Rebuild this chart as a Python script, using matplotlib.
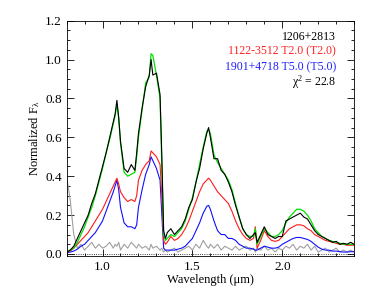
import matplotlib
matplotlib.use("Agg")
import matplotlib.pyplot as plt
from matplotlib.ticker import MultipleLocator

plt.rcParams['font.family'] = ['Liberation Serif', 'DejaVu Serif']
plt.rcParams['mathtext.fontset'] = 'custom'
plt.rcParams['mathtext.rm'] = 'Liberation Serif'
plt.rcParams['mathtext.it'] = 'Liberation Serif'

# wavelength grid (micron)
wl = [0.80, 0.82, 0.84, 0.86, 0.88, 0.90, 0.92, 0.94, 0.96, 0.98, 1.00, 1.02, 1.04, 1.06,
      1.07, 1.08, 1.09, 1.10,
      1.12, 1.14, 1.16, 1.18, 1.19, 1.20,
      1.22, 1.24, 1.26, 1.27, 1.28, 1.30, 1.32, 1.33, 1.34, 1.35, 1.36,
      1.38, 1.40, 1.42, 1.44, 1.46, 1.48, 1.50, 1.52, 1.54, 1.56, 1.58,
      1.59, 1.60,
      1.62, 1.64, 1.66, 1.68, 1.70, 1.72, 1.74, 1.76, 1.78, 1.80, 1.82, 1.84,
      1.85, 1.86,
      1.88, 1.90, 1.92, 1.94, 1.96, 1.98, 2.00, 2.02, 2.04, 2.06, 2.08, 2.10, 2.12, 2.14,
      2.16, 2.18, 2.20, 2.22, 2.24, 2.26, 2.28, 2.30, 2.32, 2.34, 2.36, 2.38, 2.40]

# 1206+2813 (target)
target = [0.01, 0.02, 0.04, 0.08, 0.12, 0.16, 0.20, 0.26, 0.31, 0.38, 0.45, 0.52, 0.60, 0.68,
          0.72, 0.79, 0.70, 0.58,
          0.44, 0.42, 0.46, 0.43, 0.52, 0.62,
          0.75, 0.86, 0.92, 1.00, 0.92, 0.93, 0.82, 0.50, 0.12, 0.08, 0.11,
          0.13, 0.10, 0.12, 0.14, 0.18, 0.24, 0.28, 0.37, 0.44, 0.54, 0.62,
          0.65, 0.60,
          0.49, 0.49, 0.43, 0.41, 0.37, 0.32, 0.25, 0.19, 0.13, 0.10, 0.08, 0.10,
          0.11, 0.06,
          0.10, 0.14, 0.10, 0.09, 0.08, 0.09, 0.09, 0.17, 0.18, 0.19, 0.20, 0.21, 0.19, 0.18,
          0.15, 0.12, 0.10, 0.09, 0.08, 0.07, 0.06, 0.065, 0.05, 0.055, 0.05, 0.06, 0.05]

# composite binary template
composite = [0.01, 0.02, 0.03, 0.06, 0.10, 0.14, 0.19, 0.24, 0.30, 0.37, 0.44, 0.52, 0.59, 0.67,
             0.71, 0.77, 0.70, 0.57,
             0.42, 0.40, 0.41, 0.42, 0.50, 0.60,
             0.74, 0.88, 0.91, 1.03, 1.02, 0.92, 0.80, 0.45, 0.10, 0.07, 0.08,
             0.10, 0.09, 0.11, 0.13, 0.17, 0.23, 0.29, 0.37, 0.46, 0.55, 0.63,
             0.64, 0.62,
             0.51, 0.47, 0.44, 0.41, 0.38, 0.33, 0.26, 0.19, 0.13, 0.10, 0.09, 0.09,
             0.13, 0.05,
             0.09, 0.13, 0.11, 0.09, 0.09, 0.10, 0.12, 0.16, 0.19, 0.21, 0.23, 0.23, 0.22, 0.20,
             0.17, 0.13, 0.11, 0.09, 0.08, 0.07, 0.065, 0.06, 0.055, 0.05, 0.05, 0.05, 0.05]

# 1122-3512 T2.0 primary
primary = [0.01, 0.015, 0.03, 0.05, 0.07, 0.09, 0.11, 0.14, 0.17, 0.20, 0.23, 0.27, 0.31, 0.35,
           0.37, 0.39, 0.36, 0.32,
           0.29, 0.27, 0.28, 0.27, 0.30, 0.38,
           0.43, 0.46, 0.48, 0.53, 0.52, 0.50, 0.46, 0.30, 0.07, 0.05, 0.06,
           0.09, 0.07, 0.08, 0.10, 0.13, 0.17, 0.22, 0.27, 0.32, 0.36, 0.38,
           0.39, 0.38,
           0.35, 0.32, 0.30, 0.28, 0.26, 0.22, 0.17, 0.13, 0.10, 0.08, 0.07, 0.08,
           0.14, 0.03,
           0.07, 0.12, 0.09, 0.07, 0.065, 0.07, 0.09, 0.11, 0.13, 0.14, 0.15, 0.15, 0.145, 0.13,
           0.12, 0.10, 0.09, 0.08, 0.07, 0.065, 0.06, 0.055, 0.05, 0.05, 0.045, 0.045, 0.045]

# 1901+4718 T5.0 secondary
secondary = [0.005, 0.01, 0.015, 0.025, 0.04, 0.05, 0.07, 0.09, 0.11, 0.14, 0.17, 0.22, 0.27, 0.32,
             0.35, 0.38, 0.33, 0.24,
             0.16, 0.14, 0.14, 0.13, 0.15, 0.24,
             0.33, 0.41, 0.46, 0.50, 0.48, 0.44, 0.38, 0.20, 0.03, 0.02, 0.02,
             0.02, 0.02, 0.025, 0.03, 0.04, 0.06, 0.08, 0.12, 0.16, 0.21, 0.245,
             0.25, 0.23,
             0.17, 0.12, 0.10, 0.10, 0.08, 0.08, 0.07, 0.05, 0.04, 0.03, 0.03, 0.025,
             0.02, 0.02,
             0.03, 0.04, 0.035, 0.03, 0.03, 0.035, 0.05, 0.06, 0.07, 0.08, 0.085, 0.085, 0.08, 0.075,
             0.065, 0.05, 0.035, 0.025, 0.02, 0.02, 0.015, 0.015, 0.012, 0.01, 0.01, 0.012, 0.012]

# noise
noise = [0.40, 0.28, 0.10, 0.03, 0.05, 0.02, 0.04, 0.06, 0.03, 0.05, 0.03, 0.04, 0.06, 0.03,
         0.05, 0.04, 0.06, 0.02,
         0.05, 0.03, 0.06, 0.04, 0.03, 0.05,
         0.03, 0.04, 0.02, 0.05, 0.03, 0.04, 0.02, 0.03, 0.01, 0.02, 0.01,
         0.02, 0.03, 0.01, 0.02, 0.03, 0.04, 0.02, 0.05, 0.03, 0.07, 0.04,
         0.03, 0.05,
         0.03, 0.05, 0.02, 0.04, 0.03, 0.02, 0.04, 0.02, 0.03, 0.04, 0.02, 0.03,
         0.01, 0.03,
         0.02, 0.04, 0.02, 0.03, 0.01, 0.03, 0.02, 0.04, 0.03, 0.05, 0.02, 0.04, 0.03, 0.05,
         0.02, 0.04, 0.01, 0.02, 0.03, 0.01, 0.02, 0.03, 0.01, 0.02, 0.01, 0.02, 0.01]

labels = ['1206+2813', '1122-3512 T2.0 (T2.0)', '1901+4718 T5.0 (T5.0)', 'χ$^2$ = 22.8']
label_colors = ['black', '#ff2020', '#2020ff', 'black']

fig = plt.figure(figsize=(3.74, 2.99), dpi=100)
ax = fig.add_axes([0.178, 0.144, 0.769, 0.787])

ax.axhline(0, color='black', lw=0.6, ls=':')
ax.plot(wl, noise, color='#a0a0a0', lw=0.8)
ax.plot(wl, secondary, color='#1010ff', lw=0.8)
ax.plot(wl, primary, color='#ff1a1a', lw=0.8)
ax.plot(wl, composite, color='#00e000', lw=0.9)
ax.plot(wl, target, color='black', lw=0.8)

ax.set_xlim(0.8, 2.4)
ax.set_ylim(-0.01, 1.2)
ax.xaxis.set_major_locator(MultipleLocator(0.5))
ax.xaxis.set_minor_locator(MultipleLocator(0.1))
ax.yaxis.set_major_locator(MultipleLocator(0.2))
ax.yaxis.set_minor_locator(MultipleLocator(0.05))
ax.tick_params(which='both', direction='in', top=True, right=True, labelsize=9.5, width=0.6)
ax.tick_params(which='major', length=5)
ax.tick_params(which='minor', length=2.5)
ax.set_xticks([1.0, 1.5, 2.0])
ax.set_xticklabels(['1.0', '1.5', '2.0'])
for s in ax.spines.values():
    s.set_linewidth(0.6)

ax.set_xlabel('Wavelength (\u03bcm)', fontsize=9, labelpad=1)
ax.set_ylabel('Normalized F$_\u03bb$', fontsize=9, labelpad=2)

ypos = [0.932, 0.868, 0.800, 0.738]
for t, c, yy in zip(labels, label_colors, ypos):
    ax.text(0.937, yy, t, color=c, fontsize=8.5, ha='right', va='center', transform=ax.transAxes)

fig.savefig('out.png', dpi=100)
